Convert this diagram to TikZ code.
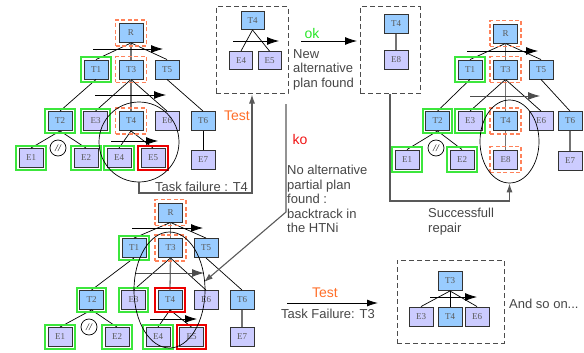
\documentclass[tikz,border=0pt]{standalone}
\usepackage{fontspec}
\setmainfont{Liberation Sans}
\newfontfamily\nodefont{Liberation Serif}
\usetikzlibrary{arrows.meta,fit,shapes.geometric,calc}
\definecolor{tblue}{RGB}{153,204,255}
\definecolor{elav}{RGB}{204,204,255}
\definecolor{hgreen}{RGB}{60,230,60}
\definecolor{hred}{RGB}{235,0,0}
\definecolor{horange}{RGB}{255,130,90}
\definecolor{torange}{RGB}{255,110,40}
\definecolor{tgreen}{RGB}{40,230,40}
\definecolor{tred}{RGB}{240,20,20}
\definecolor{tgray}{RGB}{70,70,70}
\begin{document}
\begin{tikzpicture}[x=1pt,y=-1pt,
 box/.style={draw=black!80,line width=0.9pt,minimum width=24pt,minimum height=19pt,inner sep=0pt,font=\nodefont\fontsize{9}{9}\selectfont,text=black!65},
 tsk/.style={box,fill=tblue},
 env/.style={box,fill=elav},
 sm/.style={minimum width=23pt,minimum height=18pt},
 gfit/.style={draw=hgreen,line width=2pt,inner sep=2.2pt,rectangle},
 rfit/.style={draw=hred,line width=2pt,inner sep=2.2pt,rectangle},
 ofit/.style={draw=horange,line width=1.2pt,dash pattern=on 4pt off 2.5pt,inner sep=3pt,rectangle},
 edge/.style={draw=black,line width=0.7pt},
 vedge/.style={draw=black!55,line width=1.3pt},
 seq/.style={draw=black,line width=0.8pt,-{Latex[length=12pt,width=8pt]}},
 conn/.style={draw=black!65,line width=1.1pt,-{Latex[length=9pt,width=6pt]}},
 dbox/.style={draw=black!70,line width=1pt,dash pattern=on 5pt off 3pt,rectangle,inner sep=0pt},
 par/.style={draw=black,line width=0.7pt,circle,minimum size=16pt,inner sep=0pt,font=\nodefont\itshape\fontsize{10}{10}\selectfont},
 lbl/.style={font=\fontsize{13}{14.5}\selectfont,text=tgray,inner sep=0pt},
 ring/.style={draw=black,line width=0.7pt,inner sep=0pt},
]
\useasboundingbox (0,0) rectangle (584,353);

% ---------- Tree A ----------
\node[tsk] (aR) at (131,33) {R};
\node[tsk] (aT1) at (96,69.5) {T1};
\node[tsk] (aT3) at (131,69.5) {T3};
\node[tsk] (aT5) at (167,69.5) {T5};
\node[tsk] (aT2) at (60,121) {T2};
\node[env] (aE3) at (95.5,121) {E3};
\node[tsk] (aT4) at (131,121) {T4};
\node[env] (aE6) at (167,121) {E6};
\node[tsk] (aT6) at (203,121) {T6};
\node[env] (aE1) at (31,158) {E1};
\node[env] (aE2) at (86,158) {E2};
\node[env] (aE4) at (119,158) {E4};
\node[env] (aE5) at (153,158) {E5};
\node[env] (aE7) at (203,160) {E7};
\draw[edge] (aR.south) -- (aT1.north);
\draw[vedge] (aR.south) -- (aT3.north);
\draw[edge] (aR.south) -- (aT5.north);
\draw[edge] (aT1.south) -- (aT2.north);
\draw[edge] (aT3.south) -- (aE3.north);
\draw[vedge] (aT3.south) -- (aT4.north);
\draw[edge] (aT3.south) -- (aE6.north);
\draw[edge] (aT5.south) -- (aT6.north);
\draw[edge] (aT2.south) -- (aE1.north);
\draw[edge] (aT2.south) -- (aE2.north);
\draw[edge] (aT4.south) -- (aE4.north);
\draw[edge] (aT4.south) -- (aE5.north);
\draw[edge] (aT6.south) -- (aE7.north);
\node[ofit,fit=(aR)] (aRh) {};
\node[ofit,fit=(aT3)] (aT3h) {};
\node[ofit,fit=(aT4)] (aT4h) {};
\node[gfit,fit=(aT1)] (aT1h) {};
\node[gfit,fit=(aT2)] (aT2h) {};
\node[gfit,fit=(aE3)] (aE3h) {};
\node[gfit,fit=(aE1)] (aE1h) {};
\node[gfit,fit=(aE2)] (aE2h) {};
\node[gfit,fit=(aE4)] (aE4h) {};
\node[rfit,fit=(aE5)] (aE5h) {};
\node[par] (aPar) at (58,148) {//};
\coordinate (aS1) at (93,49); \coordinate (aS1e) at (163,49);
\coordinate (aS2) at (95,95); \coordinate (aS2e) at (166,95);
\coordinate (aS3) at (111,141); \coordinate (aS3e) at (158,141);
\draw[seq] (aS1) -- (aS1e);
\draw[seq] (aS2) -- (aS2e);
\draw[seq] (aS3) -- (aS3e);
\node[ring,circle,minimum size=80pt] (aCirc) at (139,142) {};

% ---------- Tree B ----------
\node[tsk] (bR) at (505.5,33.5) {R};
\node[tsk] (bT1) at (470,69.5) {T1};
\node[tsk] (bT3) at (505.5,69.5) {T3};
\node[tsk] (bT5) at (541,69.5) {T5};
\node[tsk] (bT2) at (437.5,121) {T2};
\node[env] (bE3) at (470,121) {E3};
\node[tsk] (bT4) at (505.5,121) {T4};
\node[env] (bE6) at (541,121) {E6};
\node[tsk] (bT6) at (570,121) {T6};
\node[env] (bE1) at (407,159.5) {E1};
\node[env] (bE2) at (462,159.5) {E2};
\node[env] (bE8) at (505.5,159.5) {E8};
\node[env] (bE7) at (570,161) {E7};
\draw[edge] (bR.south) -- (bT1.north);
\draw[vedge] (bR.south) -- (bT3.north);
\draw[edge] (bR.south) -- (bT5.north);
\draw[edge] (bT1.south) -- (bT2.north);
\draw[edge] (bT3.south) -- (bE3.north);
\draw[vedge] (bT3.south) -- (bT4.north);
\draw[edge] (bT3.south) -- (bE6.north);
\draw[edge] (bT5.south) -- (bT6.north);
\draw[edge] (bT2.south) -- (bE1.north);
\draw[edge] (bT2.south) -- (bE2.north);
\draw[vedge] (bT4.south) -- (bE8.north);
\draw[vedge] (bT6.south) -- (bE7.north);
\node[ofit,fit=(bR)] (bRh) {};
\node[ofit,fit=(bT3)] (bT3h) {};
\node[ofit,fit=(bT4)] (bT4h) {};
\node[ofit,fit=(bE8)] (bE8h) {};
\node[gfit,fit=(bT1)] (bT1h) {};
\node[gfit,fit=(bT2)] (bT2h) {};
\node[gfit,fit=(bE3)] (bE3h) {};
\node[gfit,fit=(bE1)] (bE1h) {};
\node[gfit,fit=(bE2)] (bE2h) {};
\node[par] (bPar) at (436,148) {//};
\coordinate (bS1) at (467,51); \coordinate (bS1e) at (538,51);
\coordinate (bS2) at (470,96); \coordinate (bS2e) at (540,96);
\draw[seq] (bS1) -- (bS1e);
\draw[seq,draw=black!70] (bS2) -- (bS2e);
\node[ring,ellipse,minimum width=59pt,minimum height=83pt] (bEll) at (509.5,141.5) {};

% ---------- Tree C ----------
\node[tsk] (cR) at (170.5,212.5) {R};
\node[tsk] (cT1) at (134,248) {T1};
\node[tsk] (cT3) at (170.5,248) {T3};
\node[tsk] (cT5) at (206,248) {T5};
\node[tsk] (cT2) at (91.5,300) {T2};
\node[env] (cE3) at (133.5,300) {E3};
\node[tsk] (cT4) at (170,300) {T4};
\node[env] (cE6) at (206,300) {E6};
\node[tsk] (cT6) at (242,300) {T6};
\node[env] (cE1) at (60,337) {E1};
\node[env] (cE2) at (117,337) {E2};
\node[env] (cE4) at (158,337) {E4};
\node[env] (cE5) at (191.5,337) {E5};
\node[env] (cE7) at (242,337) {E7};
\draw[edge] (cR.south) -- (cT1.north);
\draw[vedge] (cR.south) -- (cT3.north);
\draw[edge] (cR.south) -- (cT5.north);
\draw[edge] (cT1.south) -- (cT2.north);
\draw[edge] (cT3.south) -- (cE3.north);
\draw[vedge] (cT3.south) -- (cT4.north);
\draw[edge] (cT3.south) -- (cE6.north);
\draw[edge] (cT5.south) -- (cT6.north);
\draw[edge] (cT2.south) -- (cE1.north);
\draw[edge] (cT2.south) -- (cE2.north);
\draw[edge] (cT4.south) -- (cE4.north);
\draw[edge] (cT4.south) -- (cE5.north);
\draw[vedge] (cT6.south) -- (cE7.north);
\node[ofit,fit=(cR)] (cRh) {};
\node[ofit,fit=(cT3)] (cT3h) {};
\node[rfit,fit=(cT4)] (cT4h) {};
\node[rfit,fit=(cE5)] (cE5h) {};
\node[gfit,fit=(cT1)] (cT1h) {};
\node[gfit,fit=(cT2)] (cT2h) {};
\node[gfit,fit=(cE3)] (cE3h) {};
\node[gfit,fit=(cE1)] (cE1h) {};
\node[gfit,fit=(cE2)] (cE2h) {};
\node[gfit,fit=(cE4)] (cE4h) {};
\node[par] (cPar) at (89,327) {//};
\coordinate (cS1) at (132,228); \coordinate (cS1e) at (203,228);
\coordinate (cS2) at (135,273); \coordinate (cS2e) at (204,273);
\coordinate (cS3) at (150,319); \coordinate (cS3e) at (197,319);
\draw[seq] (cS1) -- (cS1e);
\draw[seq,draw=black!70] (cS2) -- (cS2e);
\draw[seq] (cS3) -- (cS3e);
\node[ring,ellipse,minimum width=71pt,minimum height=116pt] (cEll) at (169.5,290) {};

% ---------- Box 1 (new alternative) ----------
\node[dbox,minimum width=72pt,minimum height=87pt] (box1) at (252,50.5) {};
\node[tsk,sm] (pT4) at (252.5,20.5) {T4};
\node[env,sm] (pE4) at (241,60.5) {E4};
\node[env,sm] (pE5) at (269.5,60.5) {E5};
\draw[edge] (pT4.south) -- (pE4.north);
\draw[edge] (pT4.south) -- (pE5.north);
\coordinate (pS) at (233,41); \coordinate (pSe) at (279,41);
\draw[seq] (pS) -- (pSe);

% ---------- Box 2 (T4 - E8) ----------
\node[dbox,minimum width=60pt,minimum height=87pt] (box2) at (390,50.5) {};
\node[tsk] (qT4) at (396,24) {T4};
\node[env] (qE8) at (396,60) {E8};
\draw[vedge] (qT4.south) -- (qE8.north);

% ---------- Box 3 (T3 level) ----------
\node[dbox,minimum width=107pt,minimum height=83pt] (box3) at (450.5,301.5) {};
\node[tsk] (rT3) at (450,281) {T3};
\node[env] (rE3) at (421,316.5) {E3};
\node[tsk] (rT4) at (450,316.5) {T4};
\node[env] (rE6) at (477,316.5) {E6};
\draw[edge] (rT3.south) -- (rE3.north);
\draw[edge] (rT3.south) -- (rT4.north);
\draw[edge] (rT3.south) -- (rE6.north);
\coordinate (rS) at (430,297); \coordinate (rSe) at (477,297);
\draw[seq] (rS) -- (rSe);

% ---------- Connectors ----------
\coordinate (c1) at (139,193);
\draw[conn] (aCirc.south) -- (c1) -| (box1.south);
\coordinate (c2) at (390,201);
\draw[conn] (box2.south) -- (c2) -| (bEll.south);
\coordinate (c3) at (286,104);
\coordinate (c4) at (286,212);
\draw[conn] (c3) -- (c4) -- ($(cE6.north)+(-2,-8)$);
\coordinate (okS) at (301,41); \coordinate (okE) at (357,41);
\draw[seq] (okS) -- (okE);
\coordinate (c5) at (287,303); \coordinate (c6) at (378,303);
\draw[seq,-{Latex[length=11pt,width=7pt]}] (c5) -- (c6);

% ---------- Labels ----------
\node[font=\fontsize{14}{14}\selectfont,text=torange,inner sep=0pt] (test1) at (237,116) {Test};
\node[font=\fontsize{14}{14}\selectfont,text=tgreen,inner sep=0pt] (ok) at (312,33) {ok};
\node[font=\fontsize{14}{14}\selectfont,text=tred,inner sep=0pt] (ko) at (300,139) {ko};
\node[lbl,anchor=north west,align=left] (newalt) at (293,49) {New\\alternative\\plan found};
\node[lbl,anchor=north west,align=left] (noalt) at (287,165) {No alternative\\partial plan\\found :\\backtrack in\\the HTNi};
\node[lbl,anchor=north west,align=left] (succ) at (428,208) {Successfull\\repair};
\node[lbl] (tf4) at (201.5,187) {Task failure : T4};
\node[font=\fontsize{14}{14}\selectfont,text=torange,inner sep=0pt] (test2) at (325,293) {Test};
\node[lbl] (tf3) at (328,314) {Task Failure: T3};
\node[lbl,anchor=west] (soon) at (509,304) {And so on...};
\end{tikzpicture}
\end{document}
